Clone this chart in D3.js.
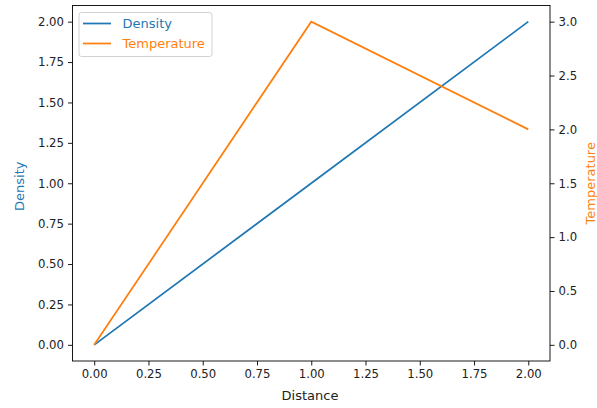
<!DOCTYPE html>
<html><head><meta charset="utf-8">
<script src="https://cdn.jsdelivr.net/npm/d3@7"></script>
<style>body{margin:0;background:#fff}svg{display:block}text{font-family:"DejaVu Sans",sans-serif}</style>
</head><body><svg id="c" width="597" height="408"></svg>
<script>
const distance = [0, 1, 2];
const density = [0, 1, 2];
const temperature = [0, 3, 2];
const xTicks = [0, 0.25, 0.5, 0.75, 1, 1.25, 1.5, 1.75, 2];
const yLeftTicks = [0, 0.25, 0.5, 0.75, 1, 1.25, 1.5, 1.75, 2];
const yRightTicks = [0, 0.5, 1, 1.5, 2, 2.5, 3];
const blue = "#1f77b4", orange = "#ff7f0e";
const fs = 11.7, fl = 13;
const L = 72.5, R = 550, T = 5.5, B = 361;
const svg = d3.select("#c");
const x = d3.scaleLinear().domain([-0.1, 2.1]).range([L, R]);
const y1 = d3.scaleLinear().domain([-0.1, 2.1]).range([B, T]);
const y2 = d3.scaleLinear().domain([-0.15, 3.15]).range([B, T]);

function styleAxis(g){
  g.select(".domain").remove();
  g.selectAll(".tick line").attr("stroke","#000").attr("stroke-width",0.9);
  g.selectAll(".tick text").attr("font-size",fs).attr("fill","#222").attr("font-family","DejaVu Sans");
}
svg.append("g").attr("transform",`translate(0,${B})`)
  .call(d3.axisBottom(x).tickValues(xTicks).tickFormat(d3.format(".2f")).tickSize(4.5).tickPadding(4))
  .call(styleAxis);
svg.append("g").attr("transform",`translate(${L},0)`)
  .call(d3.axisLeft(y1).tickValues(yLeftTicks).tickFormat(d3.format(".2f")).tickSize(4.5).tickPadding(4))
  .call(styleAxis);
svg.append("g").attr("transform",`translate(${R},0)`)
  .call(d3.axisRight(y2).tickValues(yRightTicks).tickFormat(d3.format(".1f")).tickSize(4.5).tickPadding(4))
  .call(styleAxis);

svg.append("rect").attr("x",L).attr("y",T).attr("width",R-L).attr("height",B-T)
  .attr("fill","none").attr("stroke","#000").attr("stroke-width",0.9);

const line1 = d3.line().x((d,i)=>x(distance[i])).y(d=>y1(d));
const line2 = d3.line().x((d,i)=>x(distance[i])).y(d=>y2(d));
svg.append("path").datum(density).attr("d",line1).attr("fill","none").attr("stroke",blue).attr("stroke-width",1.75);
svg.append("path").datum(temperature).attr("d",line2).attr("fill","none").attr("stroke",orange).attr("stroke-width",1.75);

svg.append("text").attr("x",310).attr("y",400).attr("text-anchor","middle").attr("font-size",fl).attr("fill","#222").text("Distance");
svg.append("text").attr("transform",`translate(24,${(T+B)/2+3}) rotate(-90)`).attr("text-anchor","middle").attr("font-size",fl).attr("fill",blue).text("Density");
svg.append("text").attr("transform",`translate(594.5,${(T+B)/2}) rotate(-90)`).attr("text-anchor","middle").attr("font-size",fl).attr("fill",orange).text("Temperature");

// legend
const lg = svg.append("g");
lg.append("rect").attr("x",79).attr("y",12.5).attr("width",133).attr("height",44).attr("rx",2.5)
  .attr("fill","#fff").attr("fill-opacity",0.8).attr("stroke","#ccc").attr("stroke-width",0.9);
const items = [{name:"Density",color:blue},{name:"Temperature",color:orange}];
items.forEach((it,i)=>{
  const cy = 23.5 + i*20;
  lg.append("line").attr("x1",83).attr("x2",111).attr("y1",cy).attr("y2",cy).attr("stroke",it.color).attr("stroke-width",1.75);
  lg.append("text").attr("x",122.5).attr("y",cy).attr("dy","0.35em").attr("font-size",fl).attr("fill",it.color).text(it.name);
});
</script></body></html>
